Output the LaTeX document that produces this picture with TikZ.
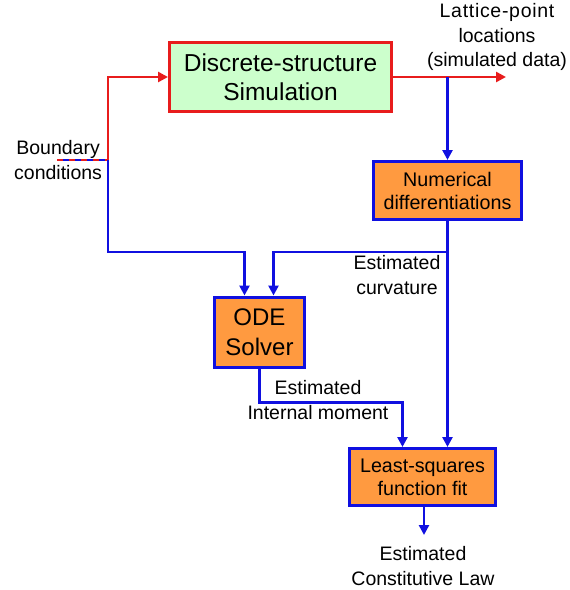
\documentclass[tikz,border=0pt]{standalone}
\usepackage{fontspec}
\setmainfont{Liberation Sans}
\usetikzlibrary{arrows.meta}
\usetikzlibrary{calc}
\definecolor{simgreen}{HTML}{CCFFCC}
\definecolor{boxorange}{HTML}{FF9A40}
\definecolor{linered}{HTML}{E81C1C}
\definecolor{lineblue}{HTML}{1010E0}

\begin{document}
\begin{tikzpicture}[x=1pt,y=-1pt]

        \tikzstyle{every node}=[align=center, inner sep=0pt]
        \tikzstyle{procbox}=[draw=lineblue, line width=3pt, fill=boxorange, rectangle, font=\fontsize{19.7}{23}\selectfont]
        \tikzstyle{lbl}=[font=\fontsize{19.5}{24.5}\selectfont]
        \tikzstyle{redflow}=[draw=linered, line width=2.8pt, -{Triangle[length=10pt,width=10pt]}]
        \tikzstyle{blueflow}=[draw=lineblue, line width=2.6pt, -{Triangle[length=10pt,width=10pt]}]

        \useasboundingbox (0,0) rectangle (570,590);

        \node[draw=linered, line width=3pt, fill=simgreen, minimum width=222pt, minimum height=69pt, font=\fontsize{24.5}{29}\selectfont] (sim) at (280.5,77) {Discrete-structure\\Simulation};
        \node[procbox, minimum width=148pt, minimum height=58pt] (num) at (447.5,190.5) {Numerical\\differentiations};
        \node[procbox, minimum width=90pt, minimum height=70pt, font=\fontsize{24}{30}\selectfont] (ode) at (259.5,332) {ODE\\Solver};
        \node[procbox, minimum width=146pt, minimum height=57pt] (lsq) at (422.5,477) {Least-squares\\function fit};

        \node[lbl] (lattice) at (497,37) {{\addfontfeature{LetterSpace=3.6}Lattice-point}\\locations\\(simulated data)};
        \node[lbl, anchor=west] (bound) at (14,160) {Boundary\\conditions};
        \node[lbl] (curv) at (397,275) {Estimated\\curvature};
        \node[lbl] (moment) at (318,400) {Estimated\\Internal moment};
        \node[lbl] (law) at (423,566) {Estimated\\Constitutive Law};

        \coordinate (bc) at (57,160);
        \coordinate (split) at (108,160);
        \coordinate (bus) at (0,252);
        \coordinate (simout) at (506,77);
        \coordinate (lawin) at (424,535);

        % boundary conditions feed both paths
        \draw[draw=lineblue, line width=2.6pt] (bc) -- (split);
        \draw[draw=linered, line width=2.6pt, dash pattern=on 6pt off 6pt] (bc) -- (split);
        \draw[redflow] (split) |- (sim.west);
        \draw[redflow] (sim.east) -- (simout);
        \draw[blueflow] (num.north |- sim.east) -- (num.north);
        \draw[blueflow] (split) -- (split |- bus) -| ([xshift=-15pt]ode.north);
        \draw[blueflow] (num.south) -- (num.south |- bus) -| ([xshift=14pt]ode.north);
        \draw[blueflow] (num.south) -- (num.south |- lsq.north);
        \draw[blueflow] (ode.south) -- ++(0,34) -| ([xshift=-20pt]lsq.north);
        \draw[blueflow] (lsq.south -| lawin) -- (lawin);

\end{tikzpicture}
\end{document}
